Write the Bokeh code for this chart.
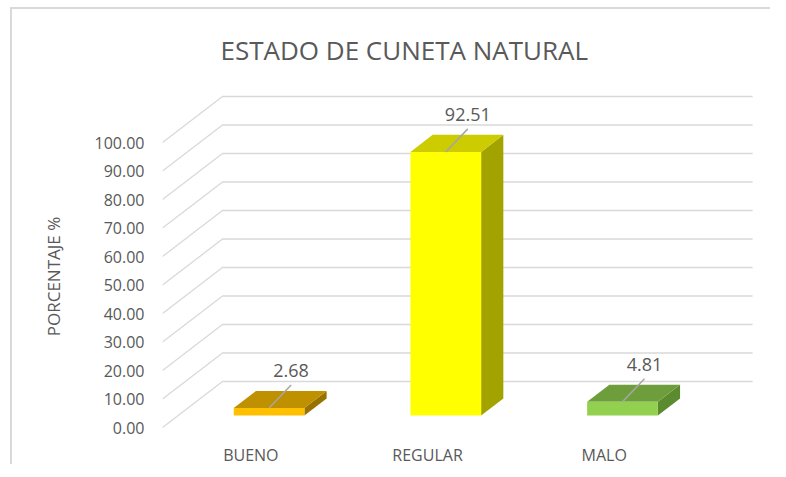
from bokeh.plotting import figure
from bokeh.models import Range1d, FixedTicker, NumeralTickFormatter, Title
from bokeh.core.properties import value
from bokeh.embed import file_html
from bokeh.resources import INLINE

# ---- data ----
categories = ["BUENO", "REGULAR", "MALO"]
percentages = [2.68, 92.51, 4.81]
label_texts = ["2.68", "92.51", "4.81"]
y_ticks = [0, 10, 20, 30, 40, 50, 60, 70, 80, 90, 100]

# ---- style ----
front_colors = ["#FFC000", "#FFFF00", "#92D050"]
top_colors = ["#BF9000", "#CCCC00", "#6E9E3C"]
side_colors = ["#987200", "#A3A300", "#5B8A2F"]
TEXT = "#595959"
GRID = "#D9D9D9"
FONT = "Open Sans"

PX_CAT = 176.7   # px per category unit
PX_VAL = 2.85    # px per value unit
FRAME_W = 608
FRAME_TOP_PX, FRAME_BOT_PX = 339, 37   # px above / below the zero line
DX = 60 / PX_CAT   # depth offset in x data units (full depth)
DY = 46 / PX_VAL   # depth offset in y data units
Z0, Z1 = 0.26, 0.63
HALF_W = 0.2
BAR_SHIFT = 0.015


def proj(x, y, z):
    return x + z * DX, y + z * DY


p = figure(frame_width=FRAME_W, frame_height=FRAME_TOP_PX + FRAME_BOT_PX,
           min_border_left=150, min_border_right=0, min_border_top=76, min_border_bottom=0,
           x_range=Range1d(0, FRAME_W / PX_CAT),
           y_range=Range1d(-FRAME_BOT_PX / PX_VAL, FRAME_TOP_PX / PX_VAL),
           x_axis_location=None,
           output_backend="svg", toolbar_location=None)
p.title = Title(text="ESTADO DE CUNETA NATURAL", align="left", offset=58, standoff=41,
                text_font=FONT, text_font_size="26px", text_font_style="normal",
                text_color=TEXT)
p.outline_line_color = None
p.xgrid.visible = False
p.ygrid.visible = False
p.background_fill_color = "white"
p.border_fill_color = "white"
p.styles = {"margin-left": "10px", "margin-top": "7px",
            "border-left": "2px solid #D9D9D9", "border-top": "2px solid #D9D9D9"}

# 3D gridlines: left side wall diagonal + back wall horizontal
gx, gy = [], []
n_cat = len(categories)
for v in y_ticks:
    x1, y1 = proj(0, v, 0)
    x2, y2 = proj(0, v, 1)
    x3, y3 = proj(n_cat, v, 1)
    gx.append([x1, x2, x3])
    gy.append([y1, y2, y3])
p.multi_line(gx, gy, line_color=GRID, line_width=1.3)

# bars
fx, fy, tx, ty, sx, sy = [], [], [], [], [], []
for i, v in enumerate(percentages):
    xc = i + 0.5 + BAR_SHIFT
    xl, xr = xc - HALF_W, xc + HALF_W
    front = [proj(xl, 0, Z0), proj(xr, 0, Z0), proj(xr, v, Z0), proj(xl, v, Z0)]
    top = [proj(xl, v, Z0), proj(xr, v, Z0), proj(xr, v, Z1), proj(xl, v, Z1)]
    side = [proj(xr, 0, Z0), proj(xr, 0, Z1), proj(xr, v, Z1), proj(xr, v, Z0)]
    fx.append([a for a, b in front]); fy.append([b for a, b in front])
    tx.append([a for a, b in top]); ty.append([b for a, b in top])
    sx.append([a for a, b in side]); sy.append([b for a, b in side])

p.patches(sx, sy, fill_color=side_colors, line_color=None)
p.patches(tx, ty, fill_color=top_colors, line_color=None)
p.patches(fx, fy, fill_color=front_colors, line_color=None)

# leader lines and data labels
lx0, ly0, lx1, ly1, labx, laby = [], [], [], [], [], []
for i, v in enumerate(percentages):
    x0, y0 = proj(i + 0.5 + BAR_SHIFT, v, Z0)
    x1, y1 = x0 + 22 / PX_CAT, y0 + 23 / PX_VAL
    lx0.append(x0); ly0.append(y0); lx1.append(x1); ly1.append(y1)
    labx.append(x1); laby.append(y1 + 14 / PX_VAL)
p.segment(lx0, ly0, lx1, ly1, line_color="#A6A6A6", line_width=1.5)
p.text(x=labx, y=laby, text=label_texts, text_font=value(FONT), text_font_size="18px",
       text_color=TEXT, text_align="center", text_baseline="middle")

# category labels on the front floor edge
cat_x = [i + 0.5 for i in range(n_cat)]
cat_y = [-27 / PX_VAL] * n_cat
p.text(x=cat_x, y=cat_y, text=categories, text_font=value(FONT), text_font_size="16px",
       text_color=TEXT, text_align="center", text_baseline="middle")

# value axis
ya = p.yaxis[0]
ya.ticker = FixedTicker(ticks=y_ticks)
ya.formatter = NumeralTickFormatter(format="0.00")
ya.axis_label = "PORCENTAJE %"
ya.axis_label_text_font = FONT
ya.axis_label_text_font_size = "17px"
ya.axis_label_text_font_style = "normal"
ya.axis_label_text_color = TEXT
ya.axis_label_standoff = 27
ya.major_label_text_font = FONT
ya.major_label_text_font_size = "16px"
ya.major_label_text_color = TEXT
ya.major_label_standoff = 18
ya.major_tick_out = 0
ya.major_tick_in = 0
ya.minor_tick_out = 0
ya.minor_tick_in = 0
ya.axis_line_color = None
ya.major_tick_line_color = None
ya.minor_tick_line_color = None

open("out.html", "w").write(file_html(p, INLINE))
